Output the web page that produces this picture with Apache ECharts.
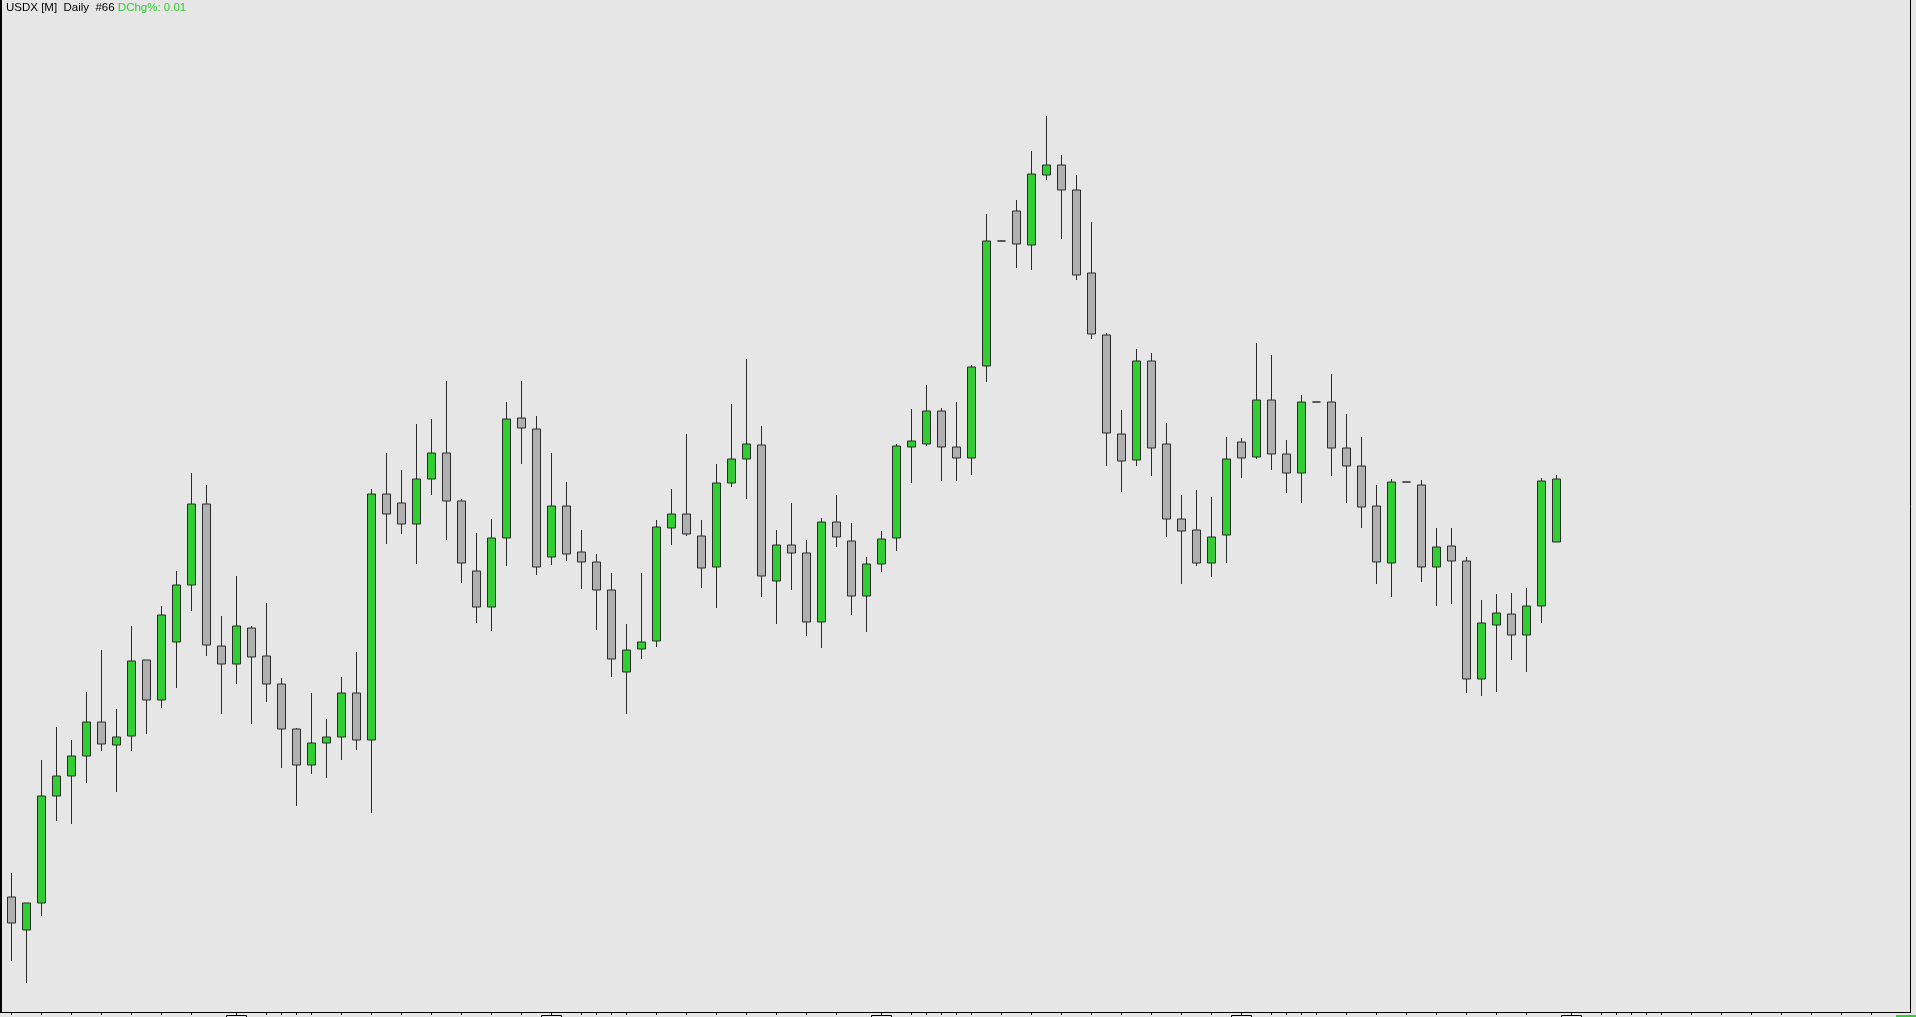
<!DOCTYPE html>
<html>
<head>
<meta charset="utf-8">
<script src="https://cdn.jsdelivr.net/npm/echarts@6/dist/echarts.min.js"></script>
<style>
html,body{margin:0;padding:0;background:#E6E6E6;overflow:hidden;}
#chart{width:1916px;height:1017px;}
</style>
</head>
<body>
<div id="chart"></div>
<script>
// ---- data ----
const opens = [96.15,95.82,96.09,97.16,97.36,97.56,97.90,97.67,97.76,98.52,
98.12,98.70,99.27,100.08,98.66,98.48,98.84,98.56,98.28,97.83,
97.47,97.69,97.75,98.19,97.72,100.18,100.09,99.88,100.33,100.59,
100.11,99.41,99.05,99.74,100.94,100.83,99.55,100.06,99.60,99.50,
99.22,98.40,98.63,98.71,99.84,99.98,99.76,99.45,100.29,100.53,
100.67,99.31,99.67,99.59,98.90,99.90,99.71,99.16,99.48,99.74,
100.65,100.68,101.01,100.65,100.54,101.46,102.71,103.01,102.67,103.37,
103.47,103.22,102.39,101.77,100.78,100.52,101.51,100.68,99.93,99.82,
99.49,99.77,100.70,100.55,101.12,100.58,100.39,101.10,101.10,100.64,
100.46,100.06,99.49,100.30,100.27,99.45,99.66,99.51,98.33,98.87,
98.98,98.77,99.06,99.70];
const closes = [95.89,96.09,97.16,97.36,97.56,97.90,97.68,97.75,98.51,98.12,
98.97,99.27,100.08,98.67,98.48,98.86,98.55,98.28,97.83,97.47,
97.69,97.75,98.19,97.72,100.18,99.98,99.88,100.33,100.59,100.11,
99.49,99.05,99.74,100.93,100.84,99.45,100.06,99.58,99.50,99.22,
98.53,98.62,98.70,99.85,99.98,99.78,99.44,100.29,100.53,100.68,
99.36,99.67,99.59,98.90,99.90,99.75,99.16,99.48,99.73,100.66,
100.71,101.01,100.65,100.54,101.45,102.71,102.71,102.68,103.38,103.47,
103.22,102.37,101.78,100.79,100.51,101.51,100.64,99.93,99.81,99.49,
99.75,100.53,100.54,101.12,100.58,100.39,101.10,101.10,100.64,100.46,
100.05,99.50,100.30,100.30,99.45,99.65,99.51,98.33,98.89,98.99,
98.77,99.06,100.31,100.33];
const lows = [95.51,95.29,95.96,96.91,96.88,97.29,97.61,97.20,97.61,97.78,
98.04,98.24,99.01,98.56,97.98,98.28,97.88,98.10,97.44,97.06,
97.38,97.34,97.52,97.62,96.99,99.68,99.78,99.48,100.17,99.72,
99.29,98.89,98.81,99.46,100.48,99.37,99.47,99.51,99.23,98.82,
98.35,97.98,98.53,98.65,99.67,99.76,99.24,99.04,100.25,100.13,
99.15,98.88,99.22,98.76,98.64,99.65,98.97,98.80,99.40,99.61,
100.29,100.66,100.31,100.31,100.37,101.30,102.71,102.44,102.42,103.32,
102.73,102.32,101.73,100.46,100.20,100.46,100.36,99.75,99.28,99.46,
99.35,99.49,100.34,100.53,100.42,100.19,100.09,101.10,100.36,100.09,
99.84,99.28,99.15,100.30,99.30,99.06,99.08,98.19,98.16,98.20,
98.52,98.40,98.89,99.70];
const highs = [96.39,96.09,97.52,97.85,97.72,98.20,98.62,98.03,98.86,98.52,
99.06,99.41,100.39,100.27,98.96,99.36,98.86,99.09,98.34,97.84,
98.19,97.93,98.35,98.60,100.23,100.59,100.42,100.88,100.93,101.31,
100.13,99.79,99.93,101.10,101.31,100.96,100.59,100.30,99.82,99.58,
99.39,98.88,99.39,99.92,100.23,100.78,99.92,100.48,101.08,101.53,
100.86,99.82,100.09,99.72,99.94,100.17,99.89,99.55,99.81,100.68,
101.03,101.27,101.04,101.10,101.47,102.98,102.71,103.12,103.61,103.96,
103.57,103.37,102.90,101.79,101.02,101.63,101.59,100.89,100.17,100.22,
100.15,100.75,100.74,101.69,101.57,100.72,101.17,101.10,101.38,100.98,
100.75,100.27,100.33,100.30,100.32,99.84,99.84,99.55,99.12,99.18,
99.19,99.24,100.34,100.37];

// time scale: 127 bar slots (104 bars drawn + empty future space)
const categories = Array.from({length: 127}, (_, i) => String(i + 1));
// slots carrying a time-scale tick
const tickSlots = [0,2,4,6,8,10,12,15,17,18,19,20,22,24,26,28,30,32,34,36,38,39,40,41,43,45,47,49,51,53,55,
58,60,61,62,63,64,66,68,70,72,74,76,78,80,82,84,85,86,87,89,91,93,95,97,99,101,
104,106,107,108,109,110,112,114,116,118,120,122,124];
// slots carrying a period-separator label box
const periodSlots = [15,36,58,82,104];

const titleMain = 'USDX [M]  Daily  #66';
const titleChg = 'DChg%: 0.01';

// ---- build ----
const candleData = opens.map((o, i) => [o, closes[i], lows[i], highs[i]]);
const tickSet = new Set(tickSlots);
const periodSet = new Set(periodSlots);

const chart = echarts.init(document.getElementById('chart'), null, {renderer: 'canvas'});
chart.setOption({
  animation: false,
  backgroundColor: '#E6E6E6',
  title: {
    left: 6, top: 2, padding: 0,
    text: '{k|' + titleMain + '} {g|' + titleChg + '}',
    textStyle: {
      fontWeight: 'normal',
      fontFamily: 'Liberation Sans',
      fontSize: 11.5,
      rich: {
        k: {fontFamily: 'Liberation Sans', fontSize: 11.5, fontWeight: 'normal', color: '#000000'},
        g: {fontFamily: 'Liberation Sans', fontSize: 11.5, fontWeight: 'normal', color: '#32CD32'}
      }
    }
  },
  grid: {left: 4, right: 7, top: 0, bottom: 5, containLabel: false, outerBoundsMode: 'none'},
  xAxis: {
    type: 'category',
    data: categories,
    boundaryGap: true,
    axisLine: {show: true, lineStyle: {color: '#000', width: 1}},
    axisTick: {
      show: true, alignWithLabel: true, length: 3,
      interval: (i) => tickSet.has(i),
      lineStyle: {color: '#000', width: 1}
    },
    axisLabel: {
      show: true,
      interval: (i) => periodSet.has(i),
      margin: 3.5,
      formatter: () => ' ',
      width: 20, height: 12, padding: 0,
      borderColor: '#000', borderWidth: 1,
      fontSize: 10, color: '#000'
    },
    splitLine: {show: false}
  },
  yAxis: {
    type: 'value', min: 95, max: 105.12, show: false,
    splitLine: {show: false}
  },
  series: [{
    type: 'candlestick',
    data: candleData,
    barWidth: 8,
    itemStyle: {
      color: '#32CD32', color0: '#B0B0B0',
      borderColor: '#2a2a2a', borderColor0: '#2a2a2a',
      borderWidth: 1
    }
  }],
  graphic: [
    {type: 'rect', shape: {x: 0, y: 0, width: 2, height: 1013}, style: {fill: '#000'}, silent: true},
    {type: 'line', shape: {x1: 1910.5, y1: 0, x2: 1910.5, y2: 1013}, style: {stroke: '#000', lineWidth: 1}, silent: true},
    {type: 'line', shape: {x1: 0, y1: 1012.5, x2: 1911, y2: 1012.5}, style: {stroke: '#000', lineWidth: 1}, silent: true},
    {type: 'rect', shape: {x: 1896, y: 1015, width: 20, height: 2}, style: {fill: '#32CD32'}, silent: true}
  ]
});
</script>
</body>
</html>
